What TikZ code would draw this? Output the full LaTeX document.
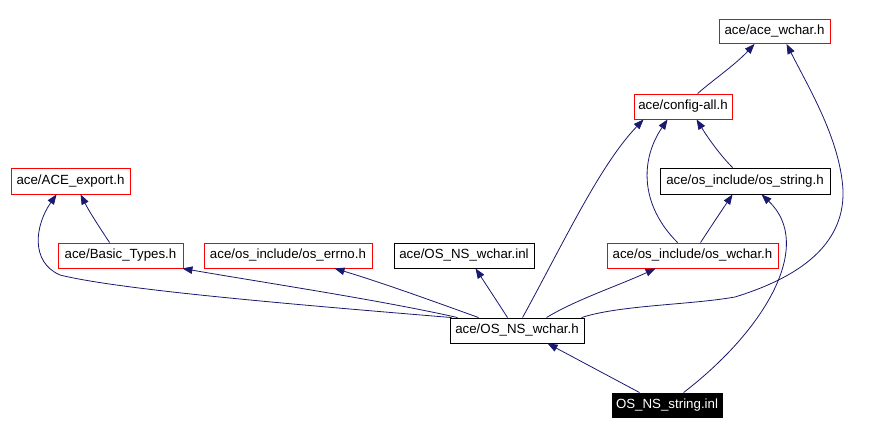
\documentclass[tikz,border=0pt]{standalone}
\usepackage{fontspec}
\setmainfont{Liberation Sans}
\usetikzlibrary{arrows.meta,calc}
\definecolor{edgeblue}{HTML}{191970}
\begin{document}
\begin{tikzpicture}[x=1pt,y=-1pt,
  font=\fontsize{13.3}{15}\selectfont,
  filebox/.style={draw=black, line width=0.9pt, inner sep=0pt, minimum height=25pt, fill=white},
  redbox/.style={filebox, draw=red},
  curbox/.style={filebox, fill=black, text=white},
  edge/.style={draw=edgeblue, line width=0.8pt, -{Triangle[length=10pt,width=7.5pt]}}]
\useasboundingbox[fill=white] (0,0) rectangle (886,435);

\node[redbox, minimum width=111pt, minimum height=24pt] (awc) at (774.5,31.5) {ace/ace\_wchar.h};
\node[redbox, minimum width=98pt] (cfg) at (683,106.5) {ace/config-all.h};
\node[filebox, minimum width=170pt, minimum height=26pt] (oss) at (745,181) {ace/os\_include/os\_string.h};
\node[redbox, minimum width=171pt] (osw) at (692.5,255.5) {ace/os\_include/os\_wchar.h};
\node[filebox, minimum width=140pt] (inl) at (464,255.5) {ace/OS\_NS\_wchar.inl};
\node[redbox, minimum width=168pt] (err) at (288,255.5) {ace/os\_include/os\_errno.h};
\node[redbox, minimum width=125pt] (bt) at (120.5,255.5) {ace/Basic\_Types.h};
\node[redbox, minimum width=119pt, minimum height=26pt] (exp) at (70.5,181) {ace/ACE\_export.h};
\node[filebox, minimum width=134pt] (wch) at (517,330.5) {ace/OS\_NS\_wchar.h};
\node[curbox, minimum width=110pt, minimum height=24pt] (str) at (667,405) {OS\_NS\_string.inl};

\draw[edge] ($(str.north west)+(28,0)$) -- ($(wch.south west)+(98,0)$);
\draw[edge] ($(str.north west)+(72,0)$) .. controls (765,330) and (815,245) .. ($(oss.south west)+(102,0)$);
\draw[edge] ($(wch.north west)+(2,0)$) .. controls (300,305) and (120,290) .. (60,275) .. controls (30,262) and (35,225) .. ($(exp.south west)+(46,0)$);
\draw[edge] ($(wch.north west)+(8,0)$) .. controls (380,300) and (260,282) .. ($(bt.south east)+(-1,0)$);
\draw[edge] ($(wch.north west)+(29,0)$) .. controls (430,300) and (380,282) .. ($(err.south west)+(131,0)$);
\draw[edge] ($(wch.north west)+(58,0)$) -- ($(inl.south west)+(82,0)$);
\draw[edge] ($(wch.north west)+(73,0)$) .. controls (565,240) and (600,165) .. ($(cfg.south west)+(10,0)$);
\draw[edge] ($(wch.north west)+(97,0)$) .. controls (575,300) and (620,285) .. ($(osw.south west)+(49,0)$);
\draw[edge] ($(wch.north west)+(132,0)$) .. controls (620,305) and (690,305) .. (735,297) .. controls (790,280) and (845,250) .. (843,190) .. controls (840,140) and (810,90) .. ($(awc.south west)+(68,0)$);
\draw[edge] ($(bt.north west)+(52,0)$) .. controls (100,228) and (90,213) .. ($(exp.south west)+(70,0)$);
\draw[edge] ($(osw.north west)+(71,0)$) .. controls (640,205) and (640,160) .. ($(cfg.south west)+(34,0)$);
\draw[edge] ($(osw.north west)+(94,0)$) .. controls (710,228) and (722,210) .. ($(oss.south west)+(73,0)$);
\draw[edge] ($(oss.north west)+(73,0)$) .. controls (720,155) and (708,138) .. ($(cfg.south west)+(63,0)$);
\draw[edge] ($(cfg.north west)+(64,0)$) .. controls (713,80) and (735,65) .. ($(awc.south west)+(36,0)$);
\end{tikzpicture}
\end{document}
